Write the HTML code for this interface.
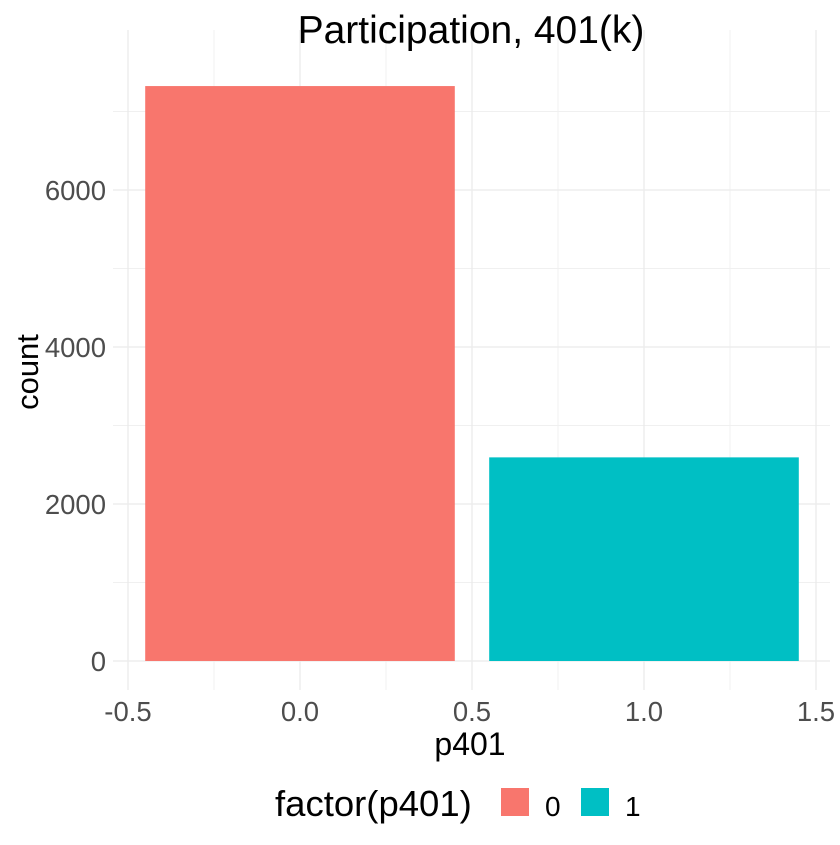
<!DOCTYPE html>
<html><head><meta charset="utf-8"><style>
html,body{margin:0;padding:0;background:#fff;}
svg text{font-family:"Liberation Sans",Arial,sans-serif;}
</style></head><body>
<svg id="chart" width="840" height="840" viewBox="0 0 840 840" xmlns="http://www.w3.org/2000/svg">
<g id="grid"></g>
<g id="bars"></g>
<g id="xticks"></g>
<g id="yticks"></g>
<text x="471" y="43" font-size="39" text-anchor="middle" fill="#000">Participation, 401(k)</text>
<text x="470" y="755" font-size="32" text-anchor="middle" fill="#000">p401</text>
<text x="0" y="0" font-size="31" text-anchor="middle" fill="#000" transform="translate(38,372) rotate(-90)">count</text>
<g>
<text x="275" y="816" font-size="36.5" fill="#000">factor(p401)</text>
<rect x="501" y="788" width="28" height="28" fill="#F8766D"/>
<text x="545" y="816" font-size="28" fill="#000">0</text>
<rect x="581" y="788" width="28" height="28" fill="#00BFC4"/>
<text x="625" y="816" font-size="28" fill="#000">1</text>
</g>
</svg>
<script>
const categories = [0, 1];
const counts = [7324, 2594];
const colors = ["#F8766D", "#00BFC4"];
const xTicks = [-0.5, 0.0, 0.5, 1.0, 1.5];
const xTickLabels = ["-0.5", "0.0", "0.5", "1.0", "1.5"];
const yTicks = [0, 2000, 4000, 6000];
const yTickLabels = ["0", "2000", "4000", "6000"];

const NS = "http://www.w3.org/2000/svg";
const xs = v => 300 + v * 344;
const ys = v => 661 - v * 157 / 2000;
const pTop = 30, pBottom = 690, pLeft = 113, pRight = 830;
function mk(tag, attrs, parent) {
  const e = document.createElementNS(NS, tag);
  for (const k in attrs) e.setAttribute(k, attrs[k]);
  parent.appendChild(e);
  return e;
}
const grid = document.getElementById("grid");
for (let i = 0; i < xTicks.length - 1; i++) {
  const v = (xTicks[i] + xTicks[i + 1]) / 2;
  const l = mk("line", {x1: xs(v), x2: xs(v), y1: pTop, y2: pBottom, stroke: "#f0f0f0", "stroke-width": 1}, grid);
  
  
}
for (let i = 0; i < yTicks.length; i++) {
  const v = yTicks[i] + (yTicks[1] - yTicks[0]) / 2;
  const l = mk("line", {x1: pLeft, x2: pRight, y1: ys(v), y2: ys(v), stroke: "#f0f0f0", "stroke-width": 1}, grid);
  
  
}
const xt = document.getElementById("xticks");
xTicks.forEach((v, i) => {
  const l = mk("line", {x1: xs(v), x2: xs(v), y1: pTop, y2: pBottom, stroke: "#ebebeb", "stroke-width": 1.3}, grid);
  
  
  const t = mk("text", {x: xs(v), y: 721, "font-size": 27.5, "text-anchor": "middle", fill: "#4d4d4d"}, xt);
  t.textContent = xTickLabels[i];
  
  
});
const yt = document.getElementById("yticks");
yTicks.forEach((v, i) => {
  const l = mk("line", {x1: pLeft, x2: pRight, y1: ys(v), y2: ys(v), stroke: "#ebebeb", "stroke-width": 1.3}, grid);
  
  
  const t = mk("text", {x: 106, y: ys(v) + 10, "font-size": 27.5, "text-anchor": "end", fill: "#4d4d4d"}, yt);
  t.textContent = yTickLabels[i];
  
  
});
const bars = document.getElementById("bars");
categories.forEach((c, i) => {
  const x0 = xs(c - 0.45), x1 = xs(c + 0.45);
  const r = mk("rect", {x: x0, y: ys(counts[i]), width: x1 - x0, height: ys(0) - ys(counts[i]), fill: colors[i]}, bars);
  
  
});
</script>
</body></html>
